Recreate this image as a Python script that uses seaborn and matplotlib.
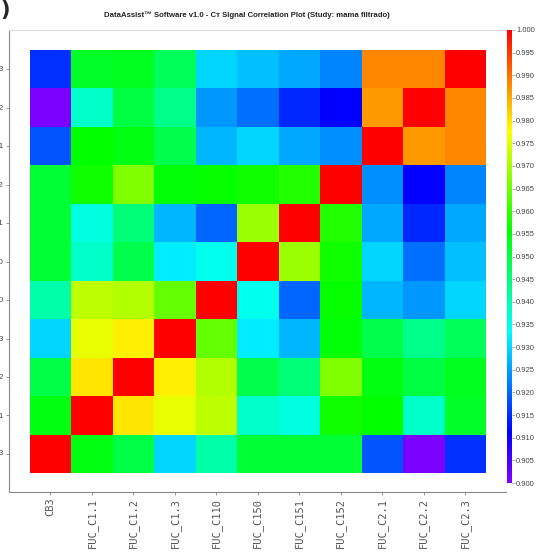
import numpy as np
import pandas as pd
import matplotlib
matplotlib.use("Agg")
import matplotlib.pyplot as plt
import seaborn as sns
from matplotlib.colors import ListedColormap, hsv_to_rgb

labels = ["CB3", "FUC_C1.1", "FUC_C1.2", "FUC_C1.3", "FUC_C110", "FUC_C150",
          "FUC_C151", "FUC_C152", "FUC_C2.1", "FUC_C2.2", "FUC_C2.3"]

r_CB3  = [1.000, 0.954, 0.9496, 0.930, 0.9407, 0.951, 0.951, 0.951, 0.9185, 0.9007, 0.9155]
r_C1_1 = [0.954, 1.000, 0.980, 0.9755, 0.972, 0.938, 0.936, 0.957, 0.9555, 0.938, 0.952]
r_C1_2 = [0.9496, 0.980, 1.000, 0.979, 0.971, 0.949, 0.945, 0.9665, 0.954, 0.950, 0.953]
r_C1_3 = [0.930, 0.9755, 0.979, 1.000, 0.9644, 0.932, 0.927, 0.955, 0.949, 0.9437, 0.948]
r_C110 = [0.9407, 0.972, 0.971, 0.9644, 1.000, 0.935, 0.920, 0.956, 0.927, 0.9244, 0.930]
r_C150 = [0.951, 0.938, 0.949, 0.932, 0.935, 1.000, 0.969, 0.957, 0.930, 0.921, 0.928]
r_C151 = [0.951, 0.936, 0.945, 0.927, 0.920, 0.969, 1.000, 0.9585, 0.926, 0.9148, 0.926]
r_C152 = [0.951, 0.957, 0.9665, 0.955, 0.956, 0.957, 0.9585, 1.000, 0.9235, 0.911, 0.923]
r_C2_1 = [0.9185, 0.9555, 0.954, 0.949, 0.927, 0.930, 0.926, 0.9235, 1.000, 0.9867, 0.988]
r_C2_2 = [0.9007, 0.938, 0.950, 0.9437, 0.9244, 0.921, 0.9148, 0.911, 0.9867, 1.000, 0.988]
r_C2_3 = [0.9155, 0.952, 0.953, 0.948, 0.930, 0.928, 0.926, 0.923, 0.988, 0.988, 1.000]

cbar_ticks = [0.900, 0.905, 0.910, 0.915, 0.920, 0.925, 0.930, 0.935, 0.940, 0.945, 0.950,
              0.955, 0.960, 0.965, 0.970, 0.975, 0.980, 0.985, 0.990, 0.995, 1.000]

title = "DataAssist\u2122 Software v1.0 - C\u1d1b Signal Correlation Plot (Study: mama filtrado)"

rows = [r_CB3, r_C1_1, r_C1_2, r_C1_3, r_C110, r_C150, r_C151, r_C152, r_C2_1, r_C2_2, r_C2_3]
df = pd.DataFrame(rows, index=labels, columns=labels)
df = df.iloc[::-1]  # top row = FUC_C2.3

# rainbow colormap: violet (0.900) -> blue -> cyan -> green -> yellow -> red (1.000)
n = 256
hues = np.linspace(270, 0, n) / 360.0
cmap = ListedColormap(hsv_to_rgb(np.stack([hues, np.ones(n), np.ones(n)], axis=1)))

sns.set_style("white")
W, H = 539, 552
fig = plt.figure(figsize=(W / 100, H / 100), dpi=100)
ax = fig.add_axes([9 / W, 1 - 492 / H, 497 / W, 462 / H])
cax = fig.add_axes([507 / W, 1 - 483 / H, 5 / W, 453 / H])

sns.heatmap(df, ax=ax, cmap=cmap, vmin=0.9, vmax=1.0, cbar_ax=cax,
            cbar_kws={"ticks": cbar_ticks, "format": "%.3f"}, linewidths=0)

ax.set_xlim(-0.5, 11.48)
ax.set_ylim(11.49, -0.52)
ax.set_xlabel("")
ax.set_ylabel("")

for s in ["left", "bottom"]:
    ax.spines[s].set_visible(True)
    ax.spines[s].set_color("#888888")
    ax.spines[s].set_linewidth(0.8)
ax.spines["top"].set_visible(True)
ax.spines["top"].set_color("#dddddd")
ax.spines["top"].set_linewidth(0.8)
ax.spines["right"].set_visible(False)

ax.tick_params(axis="both", which="both", direction="out", length=2.5, width=0.6,
               color="#888888", pad=1.5, bottom=True, left=True)
ax.set_xticklabels(labels, rotation=90, fontsize=7.5, family=["DejaVu Sans Mono"],
                   color="#555555", va="top")
ax.set_yticklabels(df.index, rotation=0, fontsize=6,
                   family=["Liberation Sans", "DejaVu Sans"], color="#444444")

cax.tick_params(labelsize=5.5, length=2, width=0.5, color="#888888", labelcolor="#444444", pad=1)
for t in cax.get_yticklabels():
    t.set_family(["Liberation Sans", "DejaVu Sans"])
cax.set_frame_on(False)

fig.text(247 / W, 1 - 15 / H, title, ha="center", va="center", fontsize=5.6,
         fontweight="bold", family=["Liberation Sans", "DejaVu Sans"], color="#222222")
fig.text(0.0, 1 - 10 / H, ")", ha="left", va="center", fontsize=15, fontweight="bold")

fig.savefig("out.png", dpi=100)
